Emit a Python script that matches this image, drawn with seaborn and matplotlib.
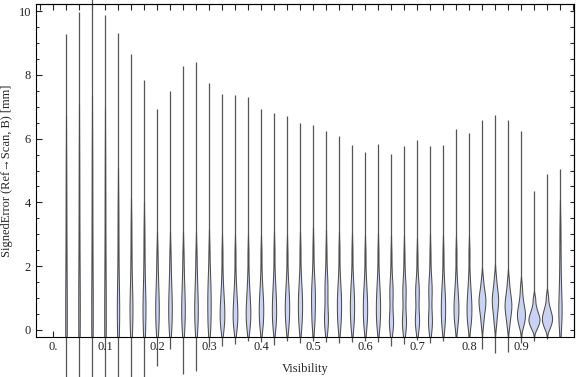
import seaborn as sns
import matplotlib.pyplot as plt
import numpy as np
import pandas as pd
from matplotlib.ticker import MultipleLocator

# Position of each violin on the Visibility axis
vis = [0.025, 0.05, 0.075, 0.1, 0.125, 0.15, 0.175, 0.2, 0.225, 0.25,
       0.275, 0.3, 0.325, 0.35, 0.375, 0.4, 0.425, 0.45, 0.475, 0.5,
       0.525, 0.55, 0.575, 0.6, 0.625, 0.65, 0.675, 0.7, 0.725, 0.75,
       0.775, 0.8, 0.825, 0.85, 0.875, 0.9, 0.925, 0.95, 0.975]

# Full range of the signed error for each violin (thin tails)
err_min = [-1.5, -1.5, -1.5, -1.5, -1.5, -1.5, -1.5, -1.13, -0.6, -1.38,
           -1.3, -0.53, -0.5, -0.44, -0.34, -0.37, -0.47, -0.33, -0.4, -0.33,
           -0.37, -0.4, -0.37, -0.33, -0.37, -0.5, -0.44, -0.31, -0.42, -0.33,
           -0.2, -0.2, -0.6, -0.72, -0.68, -0.42, -0.33, -0.28, -0.22]
err_max = [9.28, 9.98, 10.4, 9.87, 9.32, 8.65, 7.84, 6.94, 7.5, 8.28,
           8.4, 7.74, 7.4, 7.37, 7.29, 6.93, 6.8, 6.71, 6.49, 6.43,
           6.24, 6.08, 5.8, 5.58, 5.83, 5.52, 5.77, 5.96, 5.76, 5.8,
           6.29, 6.19, 6.57, 6.74, 6.57, 6.25, 4.36, 4.9, 5.04]

# Sample values that shape the body of each violin
samples = [
    [-1.2, -0.5, 0.0, 0.4, 0.8, 1.3, 1.9, 2.7, 3.7, 5.0],
    [-1.2, -0.4, 0.1, 0.5, 0.9, 1.4, 2.0, 2.8, 3.9, 5.3],
    [-1.2, -0.4, 0.1, 0.5, 0.9, 1.4, 2.1, 3.0, 4.1, 5.5],
    [-1.2, -0.5, 0.0, 0.4, 0.8, 1.3, 1.9, 2.8, 3.9, 5.2],
    [-0.7, -0.15, 0.2, 0.42, 0.65, 0.9, 1.2, 1.6, 2.2, 3.0, 3.9],
    [-0.5, -0.05, 0.25, 0.45, 0.64, 0.84, 1.06, 1.34, 1.75, 2.35, 3.2],
    [-0.5, -0.05, 0.25, 0.45, 0.64, 0.84, 1.06, 1.34, 1.75, 2.35, 3.1],
    [-0.2, 0.1, 0.3, 0.48, 0.66, 0.84, 1.03, 1.25, 1.52, 1.88, 2.4],
    [-0.15, 0.12, 0.32, 0.5, 0.68, 0.86, 1.05, 1.27, 1.54, 1.9, 2.4],
    [-0.2, 0.1, 0.3, 0.48, 0.66, 0.84, 1.03, 1.25, 1.52, 1.88, 2.4],
    [-0.2, 0.1, 0.3, 0.48, 0.66, 0.84, 1.03, 1.25, 1.52, 1.88, 2.4],
    [-0.1, 0.1, 0.3, 0.5, 0.68, 0.86, 1.04, 1.22, 1.42, 1.66, 1.95, 2.5],
    [0.0, 0.12, 0.24, 0.36, 0.47, 0.58, 0.7, 0.83, 0.98, 1.15, 1.38, 1.75, 2.4],
    [0.0, 0.12, 0.24, 0.35, 0.46, 0.57, 0.69, 0.82, 0.97, 1.14, 1.37, 1.72, 2.4],
    [0.0, 0.13, 0.26, 0.38, 0.49, 0.6, 0.72, 0.85, 1.0, 1.17, 1.4, 1.75, 2.4],
    [0.02, 0.16, 0.3, 0.43, 0.55, 0.67, 0.79, 0.92, 1.06, 1.22, 1.44, 1.78, 2.4],
    [0.02, 0.16, 0.3, 0.43, 0.56, 0.69, 0.82, 0.96, 1.11, 1.28, 1.5, 1.85, 2.5],
    [0.03, 0.18, 0.33, 0.47, 0.6, 0.72, 0.84, 0.97, 1.11, 1.27, 1.48, 1.8, 2.4],
    [0.03, 0.18, 0.34, 0.49, 0.63, 0.76, 0.89, 1.02, 1.16, 1.32, 1.53, 1.86, 2.5],
    [0.05, 0.22, 0.4, 0.57, 0.73, 0.88, 1.02, 1.16, 1.3, 1.46, 1.66, 2.0, 2.6],
    [0.02, 0.14, 0.24, 0.34, 0.45, 0.6, 0.88, 1.12, 1.28, 1.43, 1.62, 1.92, 2.5],
    [0.03, 0.18, 0.34, 0.49, 0.63, 0.76, 0.89, 1.02, 1.16, 1.32, 1.53, 1.86, 2.5],
    [0.03, 0.18, 0.33, 0.47, 0.61, 0.74, 0.87, 1.0, 1.14, 1.3, 1.5, 1.82, 2.45],
    [0.03, 0.17, 0.31, 0.45, 0.58, 0.71, 0.84, 0.97, 1.11, 1.27, 1.47, 1.8, 2.4],
    [0.03, 0.17, 0.32, 0.46, 0.59, 0.72, 0.85, 0.99, 1.13, 1.3, 1.5, 1.82, 2.45],
    [0.0, 0.1, 0.18, 0.26, 0.35, 0.5, 0.85, 1.03, 1.17, 1.3, 1.47, 1.75, 2.35],
    [0.0, 0.1, 0.18, 0.26, 0.36, 0.52, 0.9, 1.06, 1.19, 1.32, 1.49, 1.77, 2.35],
    [0.05, 0.15, 0.23, 0.32, 0.43, 0.58, 0.92, 1.07, 1.18, 1.3, 1.45, 1.7, 2.3],
    [0.0, 0.12, 0.21, 0.31, 0.42, 0.58, 0.95, 1.1, 1.23, 1.36, 1.52, 1.8, 2.4],
    [0.03, 0.17, 0.31, 0.45, 0.58, 0.71, 0.84, 0.97, 1.11, 1.27, 1.47, 1.8, 2.4],
    [0.1, 0.24, 0.37, 0.49, 0.6, 0.71, 0.82, 0.94, 1.07, 1.22, 1.42, 1.75, 2.4],
    [0.1, 0.23, 0.36, 0.48, 0.59, 0.7, 0.81, 0.93, 1.06, 1.21, 1.41, 1.72, 2.4],
    [0.15, 0.38, 0.54, 0.66, 0.76, 0.85, 0.93, 1.01, 1.1, 1.21, 1.36, 1.6],
    [0.15, 0.37, 0.54, 0.67, 0.78, 0.87, 0.96, 1.05, 1.15, 1.27, 1.43, 1.68],
    [0.1, 0.3, 0.45, 0.56, 0.66, 0.74, 0.82, 0.91, 1.01, 1.13, 1.29, 1.55],
    [0.08, 0.2, 0.3, 0.38, 0.45, 0.52, 0.59, 0.67, 0.77, 0.9, 1.08, 1.35],
    [0.02, 0.12, 0.19, 0.25, 0.3, 0.35, 0.4, 0.46, 0.53, 0.62, 0.75, 0.98],
    [0.03, 0.13, 0.21, 0.27, 0.33, 0.38, 0.44, 0.5, 0.58, 0.67, 0.8, 1.05],
    [0.1, 0.3, 0.48, 0.65, 0.85, 1.1, 1.45, 1.9, 2.5, 3.2],
]

xtick_pos = [0.0, 0.1, 0.2, 0.3, 0.4, 0.5, 0.6, 0.7, 0.8, 0.9]
xtick_labels = ["0.", "0.1", "0.2", "0.3", "0.4", "0.5", "0.6", "0.7", "0.8", "0.9"]
ytick_pos = [0, 2, 4, 6, 8, 10]

rows = [(v, e) for v, s in zip(vis, samples) for e in s]
df = pd.DataFrame(rows, columns=["Visibility", "SignedError"])

sns.set_style("ticks")
plt.rcParams["font.family"] = ["Liberation Serif", "DejaVu Serif"]

fig = plt.figure(figsize=(5.76, 3.77), dpi=100)
ax = fig.add_axes([36 / 576, 1 - 337 / 377, (574 - 36) / 576, (337 - 4) / 377])

# thin tails from min to max, drawn under the violin bodies
ax.vlines(vis, err_min, err_max, colors="#555555", linewidth=0.9,
          clip_on=False, zorder=0.5)

sns.violinplot(data=df, x="Visibility", y="SignedError", orient="x",
               native_scale=True, density_norm="area", cut=2, inner=None,
               bw_adjust=0.7, width=0.85, color="#cad2f4", saturation=1,
               linecolor="#4d4d4d", linewidth=0.75, ax=ax)

ax.set_xlim(-0.0327, 1.002)
ax.set_ylim(-0.22, 10.22)

ax.set_xticks(xtick_pos)
ax.set_xticklabels(xtick_labels)
ax.set_yticks(ytick_pos)
ax.set_yticklabels([str(t) for t in ytick_pos])
ax.yaxis.set_minor_locator(MultipleLocator(0.5))
ax.tick_params(axis="both", which="major", direction="in", length=4,
               width=0.8, labelsize=9, colors="#222222", top=False, right=False)
ax.tick_params(axis="y", which="minor", direction="in", length=2.5, width=0.7)
ax.tick_params(axis="x", pad=3)

top = ax.secondary_xaxis("top")
top.set_xticks(np.arange(-0.025, 1.001, 0.025))
top.set_xticklabels([])
top.tick_params(direction="in", length=4, width=0.8)
right = ax.secondary_yaxis("right")
right.set_yticks(np.arange(0, 10.01, 0.5))
right.set_yticklabels([])
right.tick_params(direction="in", length=3, width=0.8)

for sp in ax.spines.values():
    sp.set_linewidth(0.8)
    sp.set_color("black")

ax.set_xlabel("Visibility", fontsize=9, labelpad=7)
ax.set_ylabel("SignedError (Ref\u2192Scan, B) [mm]", fontsize=9)
ax.yaxis.set_label_coords(-0.043, 0.5)

fig.savefig("out.png", dpi=100)
